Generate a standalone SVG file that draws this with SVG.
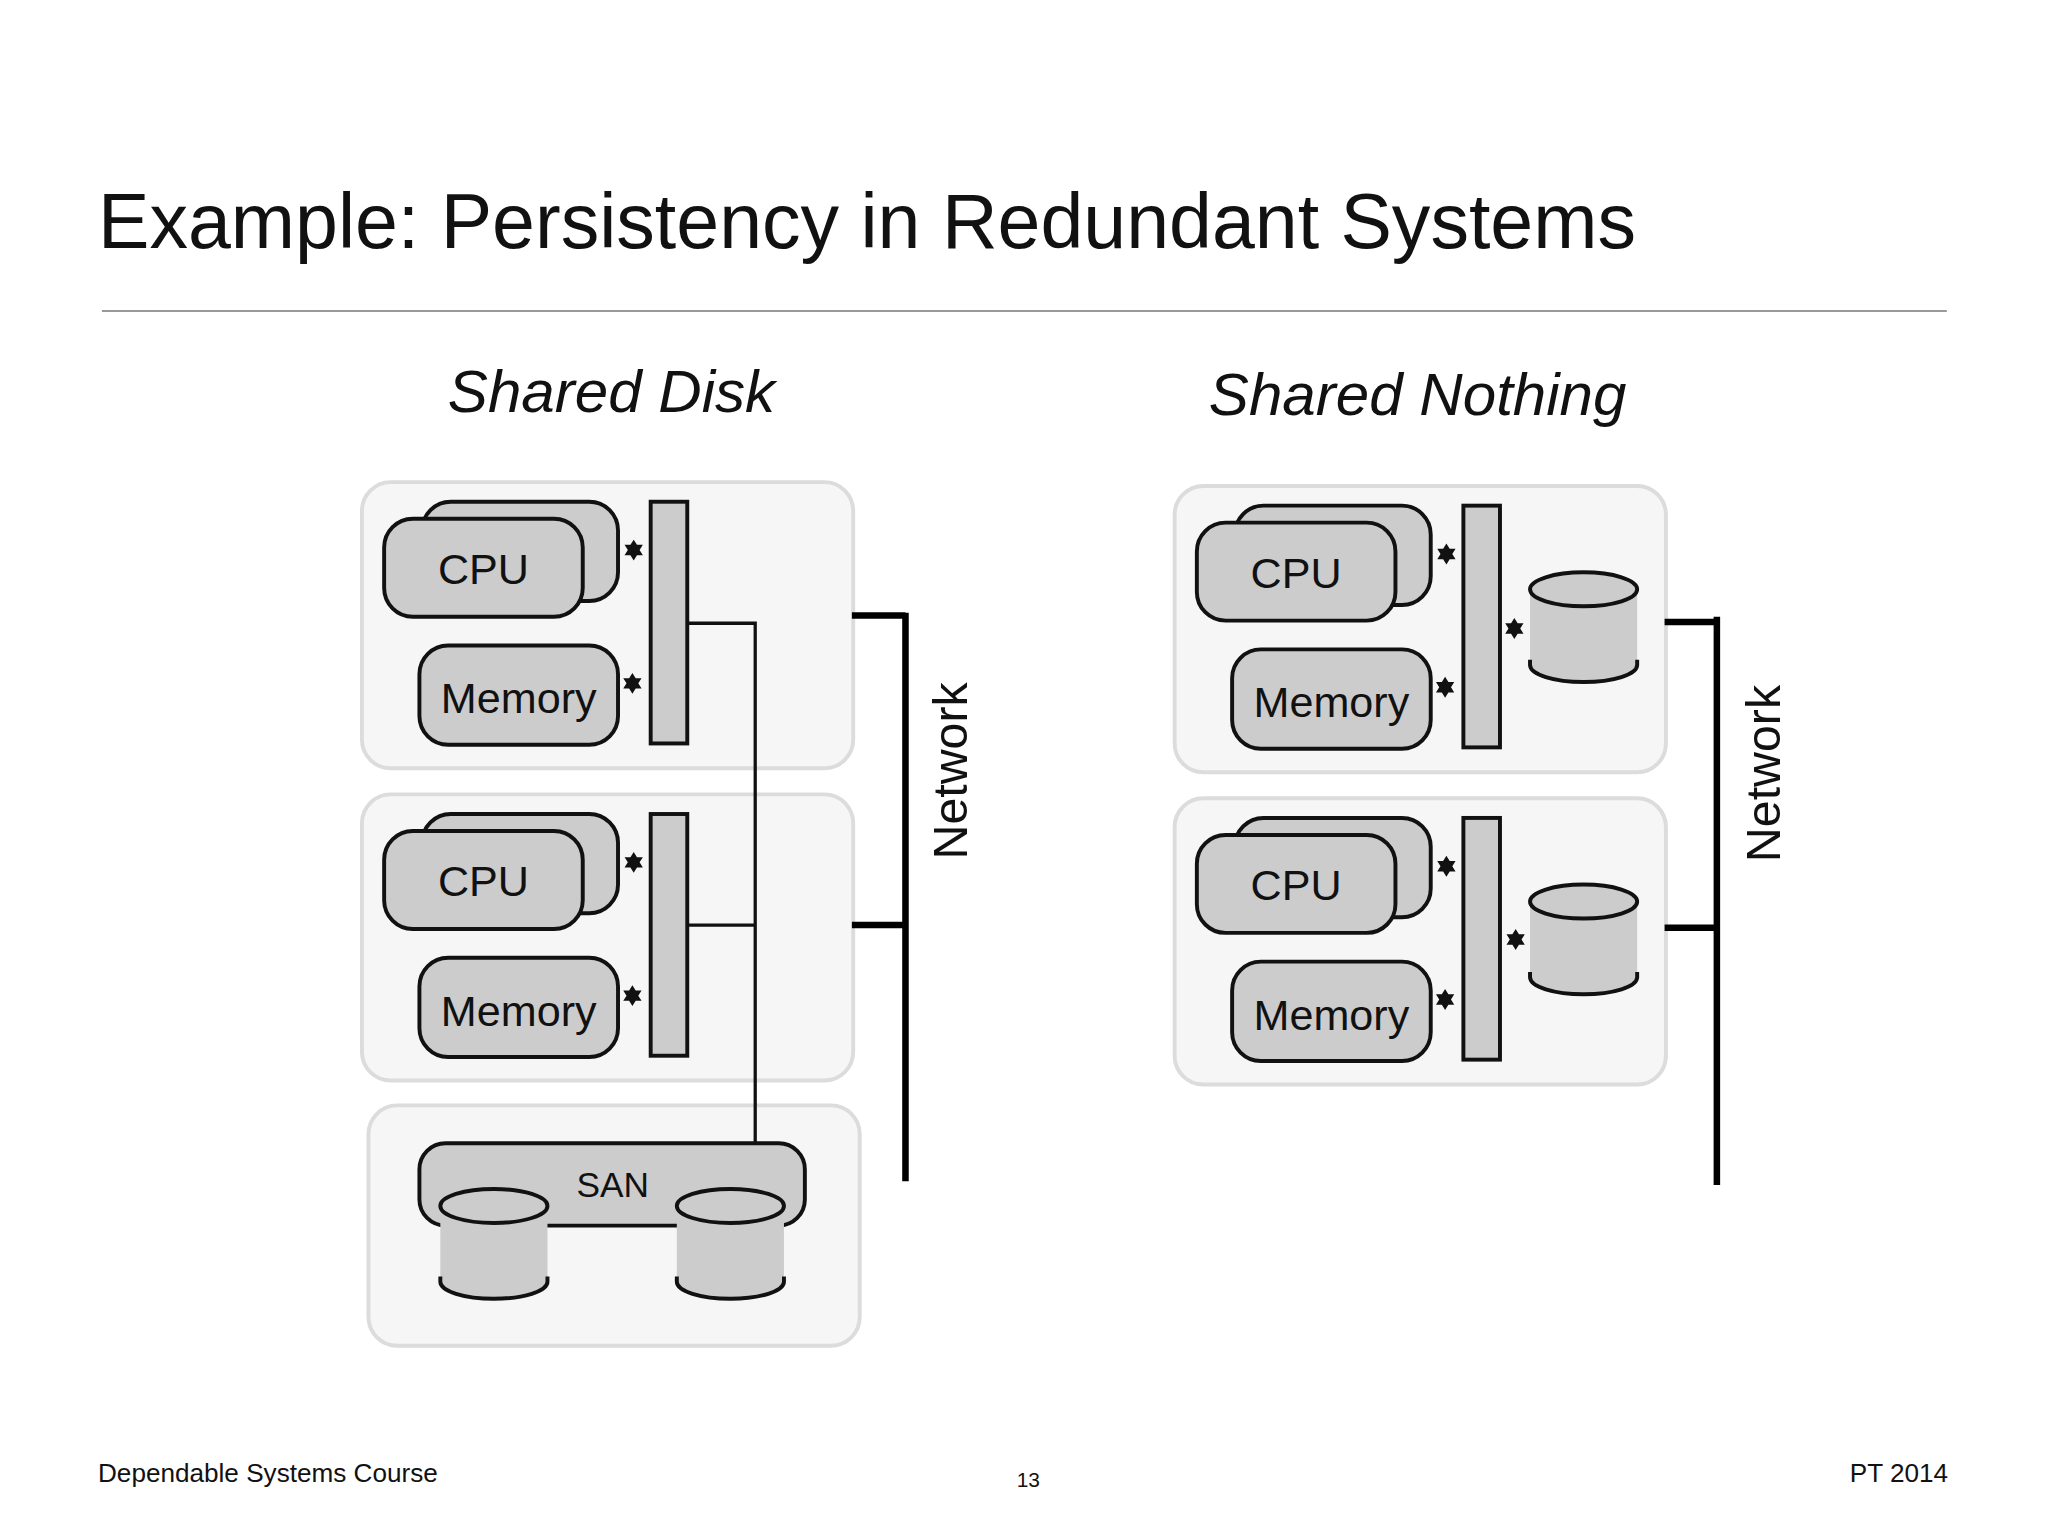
<svg xmlns="http://www.w3.org/2000/svg" xmlns:xlink="http://www.w3.org/1999/xlink" width="2048" height="1536" viewBox="0 0 2048 1536">
<style>
.grp{fill:#f6f6f6;stroke:#dcdcdc;stroke-width:3}
.blk{fill:#cccccc;stroke:#111;stroke-width:3}
.t{font-family:"Liberation Sans",Arial,sans-serif;fill:#111}
.lbl{font-size:33px;text-anchor:middle}
.con{fill:none;stroke:#111;stroke-width:2.5}
.net{fill:none;stroke:#000;stroke-width:5}
.cylb{fill:#cccccc;stroke:none}
.cyl{fill:#cccccc;stroke:#111;stroke-width:3}
.arc{fill:none;stroke:#111;stroke-width:3}
</style>
<defs>
<path id="star" d="M0,-8 L2.5,-4 7,-4 4.5,0 7,4 2.5,4 0,8 -2.5,4 -7,4 -4.5,0 -7,-4 -2.5,-4Z" fill="#111"/>
<g id="disk">
<path class="cylb" d="M-41,0 L-41,58 A41,13 0 0 0 41,58 L41,0Z"/>
<path class="arc" d="M-41,54 L-41,58 A41,13 0 0 0 41,58 L41,54"/>
<ellipse class="cyl" cx="0" cy="0" rx="41" ry="13"/>
</g>
<g id="node">
<rect class="grp" x="0" y="0" width="376" height="219" rx="22"/>
<rect class="blk" x="46" y="15" width="150" height="76" rx="22"/>
<rect class="blk" x="17" y="28" width="152" height="75" rx="22"/>
<text class="t lbl" x="93" y="78">CPU</text>
<rect class="blk" x="44" y="125" width="152" height="76" rx="22"/>
<text class="t lbl" x="120" y="177">Memory</text>
<rect class="blk" x="221" y="15" width="28" height="185"/>
<use xlink:href="#star" x="208" y="52"/>
<use xlink:href="#star" x="207" y="154"/>
</g>
</defs>
<rect width="2048" height="1536" fill="#fff"/>
<g transform="scale(1.3066)">
<text class="t" x="75" y="190" font-size="59">Example: Persistency in Redundant Systems</text>
<line x1="78" y1="238" x2="1490" y2="238" stroke="#999" stroke-width="1.5"/>
<text class="t" x="468" y="315" font-size="46" font-style="italic" text-anchor="middle">Shared Disk</text>
<text class="t" x="1085" y="318" font-size="46" font-style="italic" text-anchor="middle">Shared Nothing</text>

<g id="sd-node1"><use xlink:href="#node" x="277" y="369"/></g>
<g id="sd-node2"><use xlink:href="#node" x="277" y="608"/></g>
<g id="sd-san">
<rect class="grp" x="282" y="846" width="376" height="184" rx="22"/>
<rect class="blk" x="321" y="875" width="295" height="63" rx="20"/>
<text class="t" x="469" y="916" font-size="27" text-anchor="middle">SAN</text>
<use xlink:href="#disk" x="378" y="923"/>
<use xlink:href="#disk" x="559" y="923"/>
</g>
<g id="sn-node1"><use xlink:href="#node" x="899" y="372"/>
<use xlink:href="#disk" x="1212" y="451"/>
<use xlink:href="#star" x="1159" y="481"/></g>
<g id="sn-node2"><use xlink:href="#node" x="899" y="611"/>
<use xlink:href="#disk" x="1212" y="690"/>
<use xlink:href="#star" x="1160" y="719"/></g>

<g id="connectors">
<path class="con" d="M526,477 H578 V875 M526,708 H578"/>
<path class="net" d="M652,471 H693 M693,469 V904 M652,708 H693"/>
<path class="net" d="M1274,476 H1314 M1314,472 V907 M1274,710 H1314"/>
</g>
<text class="t" transform="translate(740,590) rotate(-90)" font-size="37" text-anchor="middle">Network</text>
<text class="t" transform="translate(1362,592) rotate(-90)" font-size="37" text-anchor="middle">Network</text>

<text class="t" x="75" y="1134" font-size="20">Dependable Systems Course</text>
<text class="t" x="787" y="1138" font-size="16" text-anchor="middle">13</text>
<text class="t" x="1491" y="1134" font-size="20" text-anchor="end">PT 2014</text>
</g>
</svg>
